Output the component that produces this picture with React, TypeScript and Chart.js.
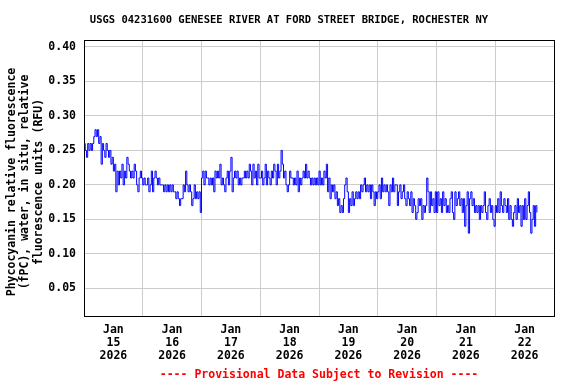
import React, { useEffect, useRef } from 'react';
import { Chart, registerables } from 'chart.js';

Chart.register(...registerables);

const TITLE = 'USGS 04231600 GENESEE RIVER AT FORD STREET BRIDGE, ROCHESTER NY';
const Y_TITLE = [
  'Phycocyanin relative fluorescence',
  '(fPC), water, in situ, relative',
  'fluorescence units (RFU)',
];
const FOOTER = '---- Provisional Data Subject to Revision ----';
const MONTH = 'Jan';
const YEAR = '2026';
const DAY_LABELS = ['15', '16', '17', '18', '19', '20', '21', '22'];
const Y_TICKS = [0.05, 0.1, 0.15, 0.2, 0.25, 0.3, 0.35, 0.4];
const STEP_HOURS = 0.5; // 30-minute readings starting Jan 15 00:00

// Phycocyanin RFU readings, one array per day
const jan15 = [0.26, 0.25, 0.24, 0.26, 0.25, 0.26, 0.25, 0.26, 0.27, 0.28, 0.27, 0.28, 0.26, 0.27, 0.23, 0.26, 0.25, 0.24, 0.26, 0.25, 0.24, 0.25, 0.23, 0.24, 0.22, 0.23, 0.19, 0.22, 0.2, 0.22, 0.21, 0.23, 0.2, 0.22, 0.21, 0.24, 0.23, 0.22, 0.21, 0.22, 0.21, 0.23, 0.22, 0.2, 0.19, 0.21, 0.22, 0.21];
const jan16 = [0.2, 0.21, 0.2, 0.2, 0.21, 0.19, 0.2, 0.22, 0.19, 0.21, 0.22, 0.21, 0.2, 0.21, 0.2, 0.2, 0.2, 0.19, 0.2, 0.19, 0.2, 0.19, 0.2, 0.19, 0.2, 0.19, 0.19, 0.18, 0.19, 0.18, 0.17, 0.18, 0.18, 0.2, 0.19, 0.22, 0.2, 0.19, 0.2, 0.19, 0.17, 0.18, 0.2, 0.18, 0.19, 0.18, 0.19, 0.16];
const jan17 = [0.21, 0.22, 0.2, 0.22, 0.21, 0.21, 0.2, 0.21, 0.2, 0.21, 0.19, 0.22, 0.21, 0.22, 0.21, 0.23, 0.2, 0.21, 0.2, 0.19, 0.21, 0.22, 0.2, 0.22, 0.24, 0.19, 0.21, 0.22, 0.21, 0.22, 0.2, 0.21, 0.2, 0.21, 0.21, 0.22, 0.21, 0.22, 0.21, 0.23, 0.22, 0.2, 0.23, 0.21, 0.22, 0.2, 0.23, 0.21];
const jan18 = [0.21, 0.22, 0.2, 0.21, 0.23, 0.2, 0.22, 0.21, 0.2, 0.22, 0.21, 0.23, 0.22, 0.2, 0.23, 0.21, 0.22, 0.25, 0.23, 0.21, 0.22, 0.2, 0.19, 0.2, 0.22, 0.21, 0.21, 0.2, 0.21, 0.2, 0.22, 0.19, 0.21, 0.2, 0.21, 0.22, 0.21, 0.23, 0.21, 0.22, 0.21, 0.2, 0.21, 0.2, 0.21, 0.2, 0.21, 0.2];
const jan19 = [0.22, 0.2, 0.21, 0.2, 0.22, 0.21, 0.23, 0.19, 0.21, 0.18, 0.2, 0.19, 0.2, 0.18, 0.19, 0.17, 0.18, 0.16, 0.17, 0.16, 0.18, 0.2, 0.21, 0.19, 0.16, 0.18, 0.17, 0.19, 0.17, 0.18, 0.19, 0.18, 0.19, 0.18, 0.2, 0.19, 0.2, 0.21, 0.19, 0.2, 0.19, 0.2, 0.18, 0.2, 0.19, 0.17, 0.19, 0.18];
const jan20 = [0.19, 0.2, 0.18, 0.21, 0.19, 0.2, 0.19, 0.2, 0.19, 0.17, 0.2, 0.19, 0.21, 0.19, 0.2, 0.2, 0.17, 0.19, 0.2, 0.18, 0.19, 0.2, 0.18, 0.17, 0.19, 0.18, 0.17, 0.19, 0.16, 0.18, 0.17, 0.15, 0.16, 0.18, 0.17, 0.18, 0.15, 0.17, 0.16, 0.17, 0.21, 0.19, 0.16, 0.19, 0.17, 0.18, 0.16, 0.19];
const jan21 = [0.16, 0.19, 0.17, 0.18, 0.16, 0.19, 0.17, 0.18, 0.16, 0.17, 0.16, 0.18, 0.19, 0.16, 0.15, 0.19, 0.17, 0.18, 0.19, 0.17, 0.18, 0.16, 0.18, 0.14, 0.17, 0.19, 0.13, 0.18, 0.19, 0.17, 0.18, 0.16, 0.17, 0.16, 0.17, 0.15, 0.17, 0.16, 0.17, 0.19, 0.16, 0.15, 0.17, 0.18, 0.16, 0.17, 0.15, 0.14];
const jan22 = [0.17, 0.16, 0.18, 0.16, 0.19, 0.17, 0.16, 0.18, 0.17, 0.16, 0.18, 0.15, 0.17, 0.15, 0.14, 0.16, 0.17, 0.15, 0.18, 0.16, 0.17, 0.14, 0.17, 0.15, 0.18, 0.15, 0.17, 0.19, 0.16, 0.13, 0.15, 0.17, 0.14, 0.17, 0.16];

const FONT_FAMILY = '"DejaVu Sans Mono", "Liberation Mono", monospace';

const textPlugin = {
  id: 'usgsText',
  beforeDatasetsDraw(chart: any) {
    const { ctx, chartArea } = chart;
    ctx.save();
    ctx.strokeStyle = '#000000';
    ctx.lineWidth = 1;
    ctx.strokeRect(
      Math.round(chartArea.left) + 0.5,
      Math.round(chartArea.top) + 0.5,
      Math.round(chartArea.right - chartArea.left),
      Math.round(chartArea.bottom - chartArea.top)
    );
    ctx.restore();
  },
  afterDraw(chart: any) {
    const { ctx, chartArea } = chart;
    ctx.save();
    ctx.fillStyle = '#000000';
    ctx.textAlign = 'center';
    ctx.textBaseline = 'middle';
    ctx.font = `bold 10.5px ${FONT_FAMILY}`;
    ctx.fillText(TITLE, 289, 20);

    ctx.font = `bold 11.5px ${FONT_FAMILY}`;
    ctx.fillStyle = '#ff0000';
    ctx.fillText(FOOTER, (chartArea.left + chartArea.right) / 2, 375);

    ctx.fillStyle = '#000000';
    const cy = 182;
    Y_TITLE.forEach((line, i) => {
      ctx.save();
      ctx.translate(12 + i * 13.3, cy);
      ctx.rotate(-Math.PI / 2);
      ctx.fillText(line, 0, 0);
      ctx.restore();
    });
    ctx.restore();
  },
};

export default function App() {
  const canvasRef = useRef<HTMLCanvasElement | null>(null);

  useEffect(() => {
    if (!canvasRef.current) return;
    const values = [...jan15, ...jan16, ...jan17, ...jan18, ...jan19, ...jan20, ...jan21, ...jan22];
    const points = values.map((v, i) => ({ x: i * STEP_HOURS, y: v }));
    const totalHours = DAY_LABELS.length * 24;

    const tickFont = { family: FONT_FAMILY, size: 11.5, weight: 'bold' as const, lineHeight: 1.12 };

    const chart = new Chart(canvasRef.current, {
      type: 'line',
      data: {
        datasets: [
          {
            data: points,
            borderColor: '#0000ff',
            borderWidth: 1,
            pointRadius: 0,
            stepped: true,
            fill: false,
          },
        ],
      },
      options: {
        animation: false,
        responsive: false,
        maintainAspectRatio: false,
        layout: { padding: { left: 0, right: 22, top: 40, bottom: 0 } },
        plugins: {
          legend: { display: false },
          title: { display: false },
          tooltip: { enabled: false },
        },
        scales: {
          x: {
            type: 'linear',
            min: 0,
            max: totalHours,
            border: { display: false },
            afterBuildTicks: (axis: any) => {
              const t: any[] = [];
              DAY_LABELS.forEach((_, i) => {
                t.push({ value: i * 24 });
                t.push({ value: i * 24 + 12 });
              });
              t.push({ value: totalHours });
              axis.ticks = t;
            },
            afterFit: (scale: any) => {
              scale.height = 68;
            },
            grid: {
              drawTicks: false,
              lineWidth: 1,
              color: (c: any) =>
                c.tick && c.tick.value % 24 === 0 ? '#cccccc' : 'rgba(0,0,0,0)',
            },
            ticks: {
              autoSkip: false,
              maxRotation: 0,
              minRotation: 0,
              padding: 7.5,
              color: '#000000',
              font: tickFont,
              callback: (value: any) => {
                const v = Number(value);
                if (v % 24 === 12) {
                  const i = (v - 12) / 24;
                  return [MONTH, DAY_LABELS[i], YEAR];
                }
                return '';
              },
            },
          },
          y: {
            type: 'linear',
            min: 0.01,
            max: 0.41,
            border: { display: false },
            afterBuildTicks: (axis: any) => {
              axis.ticks = Y_TICKS.map((v) => ({ value: v }));
            },
            afterFit: (scale: any) => {
              scale.width = 84;
            },
            grid: {
              drawTicks: false,
              color: '#cccccc',
              lineWidth: 1,
            },
            ticks: {
              padding: 8,
              color: '#000000',
              font: tickFont,
              callback: (value: any) => Number(value).toFixed(2),
            },
          },
        },
      },
      plugins: [textPlugin],
    });

    return () => {
      chart.destroy();
    };
  }, []);

  return (
    <div style={{ position: 'absolute', left: 0, top: 0, width: 576, height: 384, background: '#ffffff' }}>
      <canvas ref={canvasRef} width={576} height={384} style={{ display: 'block' }} />
    </div>
  );
}
